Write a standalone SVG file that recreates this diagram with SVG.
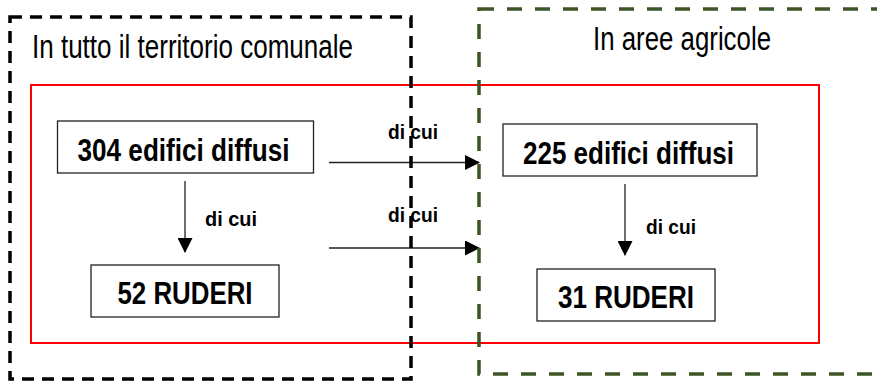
<svg xmlns="http://www.w3.org/2000/svg" width="877" height="386" viewBox="0 0 877 386">
  <style>
    .zone-black { fill: none; stroke: #000; stroke-width: 3.5; stroke-dasharray: 12 8; }
    .zone-green { fill: none; stroke: #3d5424; stroke-width: 3.5; stroke-dasharray: 15 13; }
    .frame { fill: none; stroke: #ff0000; stroke-width: 2; }
    .box { fill: #fff; stroke: #222; stroke-width: 1.3; }
    .title { font-family: "Liberation Sans", Arial, sans-serif; font-size: 33px; fill: #000; }
    .label { font-family: "Liberation Sans", Arial, sans-serif; font-size: 31px; font-weight: bold; fill: #000; }
    .edge-label { font-family: "Liberation Sans", Arial, sans-serif; font-size: 20px; font-weight: bold; fill: #000; }
    .edge { stroke: #222; stroke-width: 1.3; fill: none; marker-end: url(#arrow); }
  </style>
  <defs>
    <marker id="arrow" viewBox="0 0 15 15" markerUnits="userSpaceOnUse" markerWidth="15" markerHeight="15" refX="14" refY="7.5" orient="auto">
      <path d="M0,0 L15,7.5 L0,15 Z" fill="#000"/>
    </marker>
  </defs>
  <rect width="877" height="386" fill="#fff"/>

  <g id="frame">
    <rect class="frame" x="31" y="85" width="788" height="258"/>
  </g>

  <g id="node-304">
    <rect class="box" x="57.5" y="121" width="256" height="52"/>
    <text class="label" x="77.5" y="161" textLength="212" lengthAdjust="spacingAndGlyphs">304 edifici diffusi</text>
  </g>
  <g id="node-52">
    <rect class="box" x="91" y="265" width="188" height="52"/>
    <text class="label" x="117.5" y="303.5" textLength="135" lengthAdjust="spacingAndGlyphs">52 RUDERI</text>
  </g>
  <g id="node-225">
    <rect class="box" x="503" y="124" width="254" height="52"/>
    <text class="label" x="523" y="163.5" textLength="211" lengthAdjust="spacingAndGlyphs">225 edifici diffusi</text>
  </g>
  <g id="node-31">
    <rect class="box" x="537" y="269" width="178" height="52"/>
    <text class="label" x="558" y="307.5" textLength="136" lengthAdjust="spacingAndGlyphs">31 RUDERI</text>
  </g>

  <g id="connectors">
    <line class="edge" x1="185" y1="181" x2="185" y2="252"/>
    <line class="edge" x1="625" y1="184" x2="625" y2="255"/>
    <line class="edge" x1="329" y1="162.5" x2="479" y2="162.5"/>
    <line class="edge" x1="329" y1="248" x2="479" y2="248"/>
    <text class="edge-label" x="205" y="226" textLength="52" lengthAdjust="spacingAndGlyphs">di cui</text>
    <text class="edge-label" x="646" y="234" textLength="50" lengthAdjust="spacingAndGlyphs">di cui</text>
    <text class="edge-label" x="388" y="139" textLength="50" lengthAdjust="spacingAndGlyphs">di cui</text>
    <text class="edge-label" x="388" y="221.7" textLength="50" lengthAdjust="spacingAndGlyphs">di cui</text>
  </g>

  <g id="zone-agricole">
    <rect class="zone-green" x="479" y="9" width="420" height="365"/>
    <text class="title" x="593" y="50" textLength="178" lengthAdjust="spacingAndGlyphs">In aree agricole</text>
  </g>
  <g id="zone-comunale">
    <rect class="zone-black" x="10" y="17" width="401" height="362"/>
    <text class="title" x="32" y="58" textLength="321" lengthAdjust="spacingAndGlyphs">In tutto il territorio comunale</text>
  </g>
</svg>
